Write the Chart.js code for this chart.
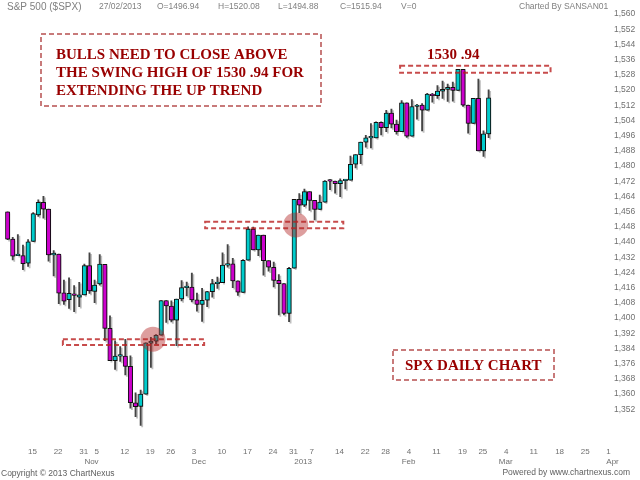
<!DOCTYPE html>
<html>
<head>
<meta charset="utf-8">
<title>SPX daily chart</title>
<script src="https://cdn.jsdelivr.net/npm/chart.js@4.4.1/dist/chart.umd.min.js"></script>
<style>
    html, body { margin: 0; padding: 0; background: #ffffff; }
    #wrap { width: 640px; height: 480px; position: relative; }
</style>
</head>
<body>
<div id="wrap"><canvas id="spxChart"></canvas></div>
<script>
// ===========================
// Data (S&P 500 daily candles, Oct 2012 - Feb 2013)
// ===========================
const dates = [
    '10/09', '10/10', '10/11', '10/12',
    '10/15', '10/16', '10/17', '10/18', '10/19',
    '10/22', '10/23', '10/24', '10/25', '10/26',
    '10/31', '11/01', '11/02',
    '11/05', '11/06', '11/07', '11/08', '11/09',
    '11/12', '11/13', '11/14', '11/15', '11/16',
    '11/19', '11/20', '11/21', '11/23',
    '11/26', '11/27', '11/28', '11/29', '11/30',
    '12/03', '12/04', '12/05', '12/06', '12/07',
    '12/10', '12/11', '12/12', '12/13', '12/14',
    '12/17', '12/18', '12/19', '12/20', '12/21',
    '12/24', '12/26', '12/27', '12/28',
    '12/31', '01/02', '01/03', '01/04',
    '01/07', '01/08', '01/09', '01/10', '01/11',
    '01/14', '01/15', '01/16', '01/17', '01/18',
    '01/22', '01/23', '01/24', '01/25',
    '01/28', '01/29', '01/30', '01/31', '02/01',
    '02/04', '02/05', '02/06', '02/07', '02/08',
    '02/11', '02/12', '02/13', '02/14', '02/15',
    '02/19', '02/20', '02/21', '02/22',
    '02/25', '02/26', '02/27', '02/28', '03/01',
    '03/04', '03/05', '03/06', '03/07', '03/08',
    '03/11', '03/12', '03/13', '03/14', '03/15',
    '03/18', '03/19', '03/20', '03/21', '03/22',
    '03/25', '03/26', '03/27', '03/28', '03/29',
    '04/01', '04/02'
];

const open = [
    1455.9, 1441.5, 1432.8, 1432.8,
    1428.8, 1440.3, 1454.2, 1460.9, 1457.3,
    1433.2, 1433.7, 1413.2, 1409.7, 1412.6,
    1411.0, 1412.2, 1427.6,
    1414.0, 1418.0, 1428.3, 1394.5, 1377.6,
    1379.9, 1380.0, 1374.6, 1355.4, 1353.4,
    1359.9, 1386.8, 1387.8, 1391.0,
    1409.2, 1406.3, 1398.8, 1410.0, 1416.0,
    1416.3, 1409.5, 1407.1, 1409.4, 1413.9,
    1418.1, 1418.6, 1427.8, 1428.5, 1419.5,
    1413.5, 1430.5, 1446.8, 1435.8, 1443.7,
    1430.2, 1426.7, 1419.8, 1418.1,
    1402.4, 1426.2, 1462.4, 1459.4,
    1466.5, 1461.9, 1457.2, 1461.0, 1472.1,
    1472.0, 1470.7, 1472.3, 1472.6, 1480.9,
    1486.0, 1492.6, 1494.8, 1494.8,
    1503.0, 1500.2, 1507.8, 1502.0, 1498.1,
    1513.2, 1495.7, 1511.3, 1512.1, 1509.4,
    1517.9, 1517.0, 1519.4, 1520.3, 1521.4,
    1519.8, 1530.9, 1512.0, 1502.4,
    1515.6, 1487.9, 1496.9
];
const high = [
    1455.9, 1442.5, 1443.9, 1438.4,
    1441.3, 1455.5, 1462.2, 1464.0, 1457.3,
    1435.5, 1433.7, 1420.0, 1421.1, 1417.1,
    1418.8, 1428.4, 1434.3,
    1419.9, 1433.4, 1428.3, 1401.2, 1388.0,
    1384.9, 1388.8, 1380.1, 1360.6, 1362.0,
    1386.9, 1389.8, 1391.3, 1409.2,
    1409.2, 1409.0, 1410.0, 1419.7, 1418.9,
    1423.7, 1413.1, 1415.6, 1414.0, 1420.3,
    1421.6, 1434.3, 1438.6, 1431.4, 1419.5,
    1430.7, 1448.0, 1447.8, 1443.7, 1443.7,
    1430.2, 1429.4, 1422.8, 1418.1,
    1426.7, 1462.4, 1465.5, 1467.9,
    1466.5, 1461.9, 1464.7, 1472.3, 1472.8,
    1472.0, 1473.3, 1473.0, 1485.2, 1486.0,
    1492.6, 1496.1, 1502.3, 1503.3,
    1503.2, 1509.3, 1509.9, 1504.2, 1514.4,
    1513.2, 1515.0, 1512.5, 1512.9, 1518.3,
    1518.3, 1522.3, 1524.7, 1523.1, 1524.2,
    1530.9, 1530.9, 1512.0, 1515.6,
    1525.8, 1498.5, 1520.1
];
const low = [
    1441.2, 1430.6, 1432.8, 1425.5,
    1427.2, 1440.3, 1453.4, 1452.6, 1429.9,
    1422.1, 1407.6, 1407.1, 1405.1, 1403.3,
    1405.9, 1412.2, 1412.9,
    1408.1, 1417.3, 1388.1, 1377.5, 1373.0,
    1377.2, 1370.0, 1352.5, 1348.1, 1343.4,
    1359.9, 1374.0, 1386.4, 1391.0,
    1397.7, 1398.0, 1385.4, 1409.0, 1411.6,
    1408.5, 1403.6, 1398.2, 1405.9, 1410.9,
    1415.6, 1418.6, 1426.8, 1416.0, 1411.9,
    1413.5, 1430.5, 1435.8, 1432.8, 1422.6,
    1424.7, 1416.4, 1401.6, 1401.6,
    1398.1, 1426.2, 1455.5, 1458.6,
    1456.6, 1451.6, 1457.2, 1461.0, 1467.6,
    1465.7, 1463.8, 1467.9, 1472.6, 1479.0,
    1481.2, 1489.9, 1489.5, 1494.8,
    1496.3, 1498.1, 1500.1, 1496.8, 1498.1,
    1495.0, 1495.7, 1504.7, 1498.5, 1509.4,
    1513.6, 1515.6, 1515.6, 1514.0, 1514.1,
    1519.8, 1511.4, 1497.3, 1502.4,
    1487.9, 1485.0, 1494.9
];
const close = [
    1441.5, 1432.6, 1432.8, 1428.6,
    1440.1, 1454.9, 1460.9, 1457.3, 1433.2,
    1433.8, 1413.1, 1408.8, 1413.0, 1411.9,
    1412.2, 1427.6, 1414.2,
    1417.3, 1428.4, 1394.5, 1377.5, 1379.9,
    1380.0, 1374.5, 1355.5, 1353.3, 1359.9,
    1386.9, 1387.8, 1391.0, 1409.2,
    1406.3, 1398.9, 1409.9, 1416.0, 1416.2,
    1409.5, 1407.1, 1409.3, 1413.9, 1418.1,
    1418.6, 1427.8, 1428.5, 1419.5, 1413.6,
    1430.4, 1446.8, 1435.8, 1443.7, 1430.2,
    1426.7, 1419.8, 1418.1, 1402.4,
    1426.2, 1462.4, 1459.4, 1466.5,
    1461.9, 1457.2, 1461.0, 1472.1, 1472.0,
    1470.7, 1472.3, 1472.6, 1480.9, 1486.0,
    1492.6, 1494.8, 1494.8, 1503.0,
    1500.2, 1507.8, 1502.0, 1498.1, 1513.2,
    1495.7, 1511.3, 1512.1, 1509.4, 1517.9,
    1517.0, 1519.4, 1520.3, 1521.4, 1519.8,
    1530.9, 1512.0, 1502.4, 1515.6,
    1487.9, 1496.9, 1515.9
];

// Axis labels
const yTicks = [1352, 1360, 1368, 1376, 1384, 1392, 1400, 1408, 1416, 1424, 1432, 1440,
    1448, 1456, 1464, 1472, 1480, 1488, 1496, 1504, 1512, 1520, 1528, 1536, 1544, 1552, 1560];
const weekTickDates = ['10/15', '10/22', '10/31', '11/05', '11/12', '11/19', '11/26',
    '12/03', '12/10', '12/17', '12/24', '12/31', '01/07', '01/14', '01/22', '01/28',
    '02/04', '02/11', '02/19', '02/25', '03/04', '03/11', '03/18', '03/25', '04/01'];
const monthTickDates = ['11/01', '12/03', '01/02', '02/01', '03/01', '04/01'];
const monthTickText = ['Nov', 'Dec', '2013', 'Feb', 'Mar', 'Apr'];

// Annotations drawn on price levels: [fromIndex, toIndex, topPrice, bottomPrice]
const levelBoxes = [
    [10.8, 38.4, 1388.8, 1385.8],
    [38.6, 65.6, 1450.7, 1447.2],
    [76.7, 106.1, 1532.8, 1529.1]
];
// Breakout circles: [index, price]
const breakoutPoints = [
    [28.4, 1388.8],
    [56.3, 1449.0]
];

// ===========================
// Colours
// ===========================
const UP_COLOR = '#00cccc';
const DOWN_COLOR = '#cc00cc';
const NOTE_COLOR = '#990000';

const bodies = dates.map((d, i) => i < close.length ? [open[i], close[i]] : null);
const wicks = dates.map((d, i) => i < close.length ? [low[i], high[i]] : null);
const bodyColors = close.map((c, i) => c >= open[i] ? UP_COLOR : DOWN_COLOR);

// ===========================
// Plugins
// ===========================
const candleShadow = {
    id: 'candleShadow',
    beforeDatasetsDraw(chart) {
        const ctx = chart.ctx;
        ctx.save();
        ctx.shadowColor = 'rgba(0, 0, 0, 0.25)';
        ctx.shadowBlur = 0;
        ctx.shadowOffsetX = 1.5;
        ctx.shadowOffsetY = 1.5;
    },
    afterDatasetsDraw(chart) {
        chart.ctx.restore();
    }
};

function dashedRect(ctx, x1, y1, x2, y2, color) {
    ctx.save();
    ctx.strokeStyle = color;
    ctx.lineWidth = 2;
    ctx.setLineDash([5, 3]);
    ctx.strokeRect(x1, y1, x2 - x1, y2 - y1);
    ctx.restore();
}

const notes = {
    id: 'notes',
    afterDraw(chart) {
        const ctx = chart.ctx;
        const x = chart.scales.x;
        const y = chart.scales.y;

        // level boxes and breakout circles
        levelBoxes.forEach(b => {
            dashedRect(ctx, x.getPixelForValue(b[0]), y.getPixelForValue(b[2]),
                x.getPixelForValue(b[1]), y.getPixelForValue(b[3]), 'rgba(185, 30, 30, 0.8)');
        });
        breakoutPoints.forEach(p => {
            ctx.save();
            ctx.fillStyle = 'rgba(180, 40, 40, 0.45)';
            ctx.beginPath();
            ctx.arc(x.getPixelForValue(p[0]), y.getPixelForValue(p[1]), 12.5, 0, Math.PI * 2);
            ctx.fill();
            ctx.restore();
        });

        // comment boxes
        dashedRect(ctx, 41, 34, 321, 106, 'rgba(170, 50, 50, 0.65)');
        dashedRect(ctx, 393, 350, 554, 380, 'rgba(170, 50, 50, 0.65)');

        ctx.save();
        ctx.fillStyle = NOTE_COLOR;
        ctx.font = 'bold 15px "Liberation Serif", "DejaVu Serif", serif';
        ctx.textBaseline = 'alphabetic';
        ctx.textAlign = 'left';
        ctx.fillText('BULLS NEED TO CLOSE ABOVE', 56, 58.5);
        ctx.fillText('THE SWING HIGH OF 1530 .94 FOR', 56, 77);
        ctx.fillText('EXTENDING THE UP TREND', 56, 95.3);
        ctx.fillText('1530 .94', 427, 58.5);
        ctx.fillText('SPX DAILY CHART', 405, 370);
        ctx.restore();

        // header and footer
        ctx.save();
        ctx.fillStyle = '#808080';
        ctx.textBaseline = 'middle';
        ctx.textAlign = 'left';
        ctx.font = '10px "Liberation Sans", Arial, sans-serif';
        ctx.fillText('S&P 500 ($SPX)', 7, 7);
        ctx.font = '8.5px "Liberation Sans", Arial, sans-serif';
        ctx.fillText('27/02/2013', 99, 7);
        ctx.fillText('O=1496.94', 157, 7);
        ctx.fillText('H=1520.08', 218, 7);
        ctx.fillText('L=1494.88', 278, 7);
        ctx.fillText('C=1515.94', 340, 7);
        ctx.fillText('V=0', 401, 7);
        ctx.fillText('Charted By SANSAN01', 519, 7);
        ctx.fillStyle = '#606060';
        ctx.fillText('Copyright \u00a9 2013 ChartNexus', 1, 474);
        ctx.textAlign = 'right';
        ctx.fillText('Powered by www.chartnexus.com', 630, 473);
        ctx.restore();
    }
};

// ===========================
// Chart
// ===========================
const ctx = document.getElementById('spxChart').getContext('2d');
const spxChart = new Chart(ctx, {
    type: 'bar',
    data: {
        labels: dates,
        datasets: [{
            label: 'Body',
            data: bodies,
            backgroundColor: bodyColors,
            borderColor: '#111111',
            borderWidth: 1,
            borderSkipped: false,
            barThickness: 4.4,
            minBarLength: 1.5,
            grouped: false,
            order: 1
        }, {
            label: 'Range',
            data: wicks,
            backgroundColor: '#444444',
            borderWidth: 0,
            barThickness: 1.2,
            grouped: false,
            order: 2
        }]
    },
    options: {
        responsive: true,
        maintainAspectRatio: false,
        animation: false,
        layout: {
            padding: { left: 4.7, top: 6.4, right: 0, bottom: 0 }
        },
        plugins: {
            legend: { display: false },
            tooltip: { enabled: false }
        },
        scales: {
            x: {
                offset: true,
                grid: { display: false, drawTicks: false },
                border: { display: false },
                afterFit: scale => { scale.height = 40.4; },
                ticks: {
                    autoSkip: false,
                    maxRotation: 0,
                    minRotation: 0,
                    align: 'start',
                    padding: 7.6,
                    color: '#707070',
                    font: { family: '"Liberation Sans", Arial, sans-serif', size: 8 },
                    callback: function (value, index) {
                        const d = dates[index];
                        const day = weekTickDates.includes(d) ? String(parseInt(d.slice(3), 10)) : '';
                        const m = monthTickDates.indexOf(d);
                        return m >= 0 ? [day, monthTickText[m]] : day;
                    }
                }
            },
            y: {
                position: 'right',
                min: 1336,
                max: 1564,
                grid: { display: false, drawTicks: false },
                border: { display: false },
                afterFit: scale => { scale.width = 26; },
                afterBuildTicks: scale => { scale.ticks = yTicks.map(v => ({ value: v })); },
                ticks: {
                    padding: 0,
                    color: '#707070',
                    font: { family: '"Liberation Sans", Arial, sans-serif', size: 8.5 }
                }
            }
        }
    },
    plugins: [candleShadow, notes]
});
</script>
</body>
</html>
